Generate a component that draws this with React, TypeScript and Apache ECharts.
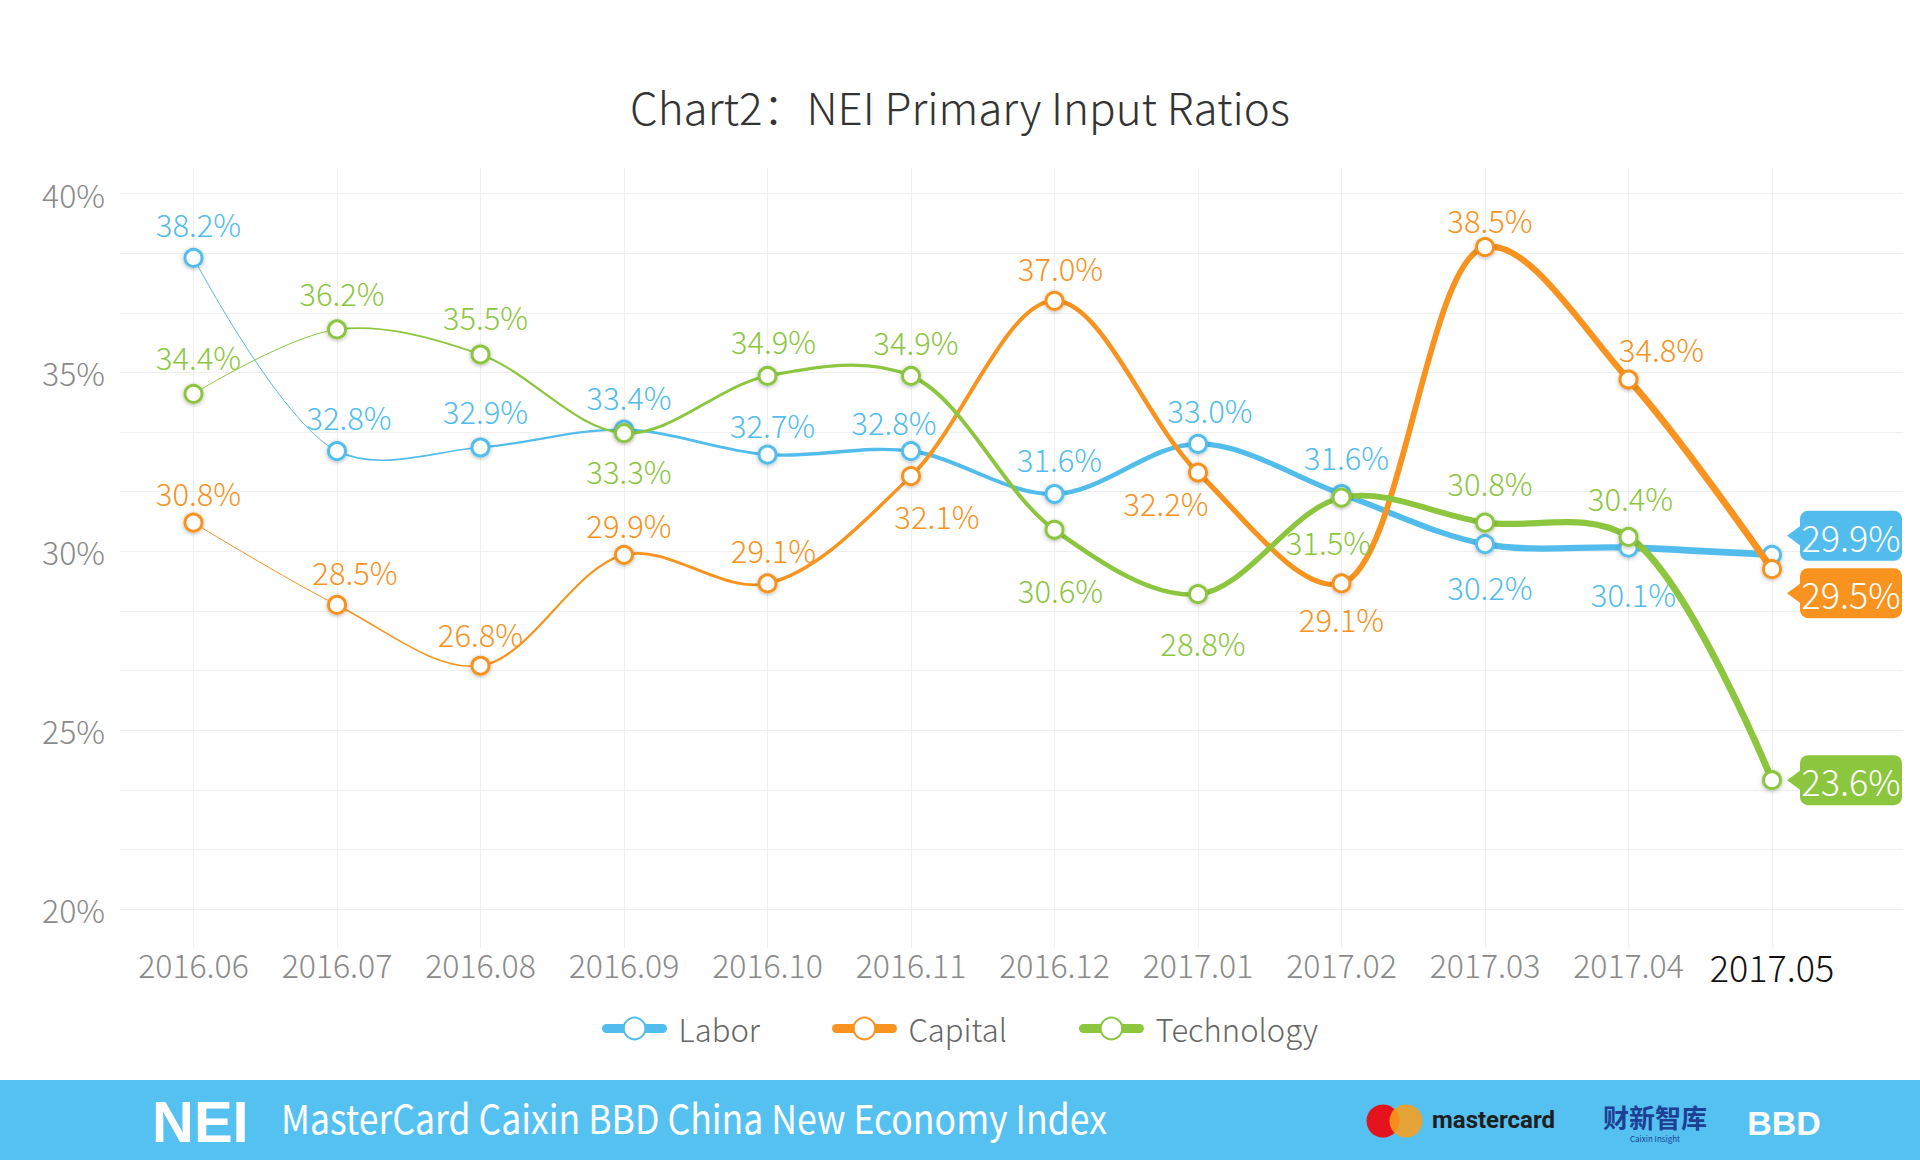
import React, { useEffect, useRef } from 'react';
import * as echarts from 'echarts';

const categories = ['2016.06', '2016.07', '2016.08', '2016.09', '2016.10', '2016.11', '2016.12', '2017.01', '2017.02', '2017.03', '2017.04', '2017.05'];
const labor = [38.2, 32.8, 32.9, 33.4, 32.7, 32.8, 31.6, 33.0, 31.6, 30.2, 30.1, 29.9];
const capital = [30.8, 28.5, 26.8, 29.9, 29.1, 32.1, 37.0, 32.2, 29.1, 38.5, 34.8, 29.5];
const technology = [34.4, 36.2, 35.5, 33.3, 34.9, 34.9, 30.6, 28.8, 31.5, 30.8, 30.4, 23.6];
const yTicks = [20, 25, 30, 35, 40];
const seriesNames = ['Labor', 'Capital', 'Technology'];

// layout / style (not data)
const laborLabelDx = [5, 12, 5, 5, 5, -17, 5, 12, 5, 5, 5, 0];
const laborLabelDy = [-34, -35, -37, -33, -30, -30, -36, -34, -38, 42, 46, 0];
const capitalLabelDx = [5, 18, 0, 5, 6, 26, 6, -32, 0, 5, 33, 0];
const capitalLabelDy = [-30, -33, -32, -30, -34, 39, -33, 30, 35, -28, -31, 0];
const techLabelDx = [5, 5, 5, 5, 6, 5, 6, 5, -13, 5, 2, 0];
const techLabelDy = [-37, -37, -38, 37, -35, -34, 60, 48, 44, -40, -39, 0];
const segWidths = [1, 1.6, 2.2, 2.8, 3.4, 4.0, 4.6, 5.2, 5.8, 6.3, 6.8];

const FONT = '"Noto Sans CJK SC", "Noto Sans", sans-serif';
const COLORS = ['#52BDEC', '#F7931E', '#8CC63F'];
const GRID_LINE = '#efefef';

// centripetal Catmull-Rom segment control points between pts[i] and pts[i+1]
function crSegment(pts: number[][], i: number) {
  const p1 = pts[i];
  const p2 = pts[i + 1];
  const p0 = i > 0 ? pts[i - 1] : p1;
  const p3 = i + 2 < pts.length ? pts[i + 2] : p2;
  const dist = (a: number[], b: number[]) => Math.hypot(b[0] - a[0], b[1] - a[1]);
  const l01 = dist(p0, p1);
  const l12 = dist(p1, p2);
  const l23 = dist(p2, p3);
  const l01a = Math.sqrt(l01);
  const l12a = Math.sqrt(l12);
  const l23a = Math.sqrt(l23);
  let c1x = p1[0], c1y = p1[1], c2x = p2[0], c2y = p2[1];
  if (l01a > 1e-9) {
    const a = 2 * l01 + 3 * l01a * l12a + l12;
    const n = 3 * l01a * (l01a + l12a);
    c1x = (p1[0] * a - p0[0] * l12 + p2[0] * l01) / n;
    c1y = (p1[1] * a - p0[1] * l12 + p2[1] * l01) / n;
  }
  if (l23a > 1e-9) {
    const b = 2 * l23 + 3 * l23a * l12a + l12;
    const m = 3 * l23a * (l23a + l12a);
    c2x = (p2[0] * b + p1[0] * l23 - p3[0] * l12) / m;
    c2y = (p2[1] * b + p1[1] * l23 - p3[1] * l12) / m;
  }
  return [c1x, c1y, c2x, c2y];
}

function curveSeries(name: string, values: number[], color: string, z: number, endDy: number) {
  return {
    type: 'custom',
    name: name + '-curve',
    xAxisIndex: 1,
    yAxisIndex: 1,
    z,
    silent: true,
    clip: false,
    data: values.map((v, i) => [i, v]),
    encode: { x: 0, y: 1 },
    renderItem: (params: any, api: any) => {
      const i = params.dataIndex;
      const n = values.length;
      const pts = values.map((v, j) => api.coord([j, v]));
      if (i < n - 1) {
        const c = crSegment(pts, i);
        return {
          type: 'bezierCurve',
          shape: {
            x1: pts[i][0], y1: pts[i][1],
            cpx1: c[0], cpy1: c[1],
            cpx2: c[2], cpy2: c[3],
            x2: pts[i + 1][0], y2: pts[i + 1][1],
          },
          style: { stroke: color, lineWidth: segWidths[i], fill: 'none', lineCap: 'round' },
        };
      }
      const px = pts[i][0];
      const py = pts[i][1];
      const cy = py + endDy;
      return {
        type: 'group',
        children: [
          {
            type: 'polygon',
            shape: { points: [[px + 15, cy], [px + 30, cy - 11], [px + 30, cy + 11]] },
            style: { fill: color },
          },
          {
            type: 'rect',
            shape: { x: px + 28, y: cy - 25, width: 102, height: 50, r: 8 },
            style: { fill: color },
          },
          {
            type: 'text',
            x: px + 79,
            y: cy,
            style: {
              text: values[i].toFixed(1) + '%',
              fill: '#fff',
              fontSize: 36,
              fontFamily: FONT,
              fontWeight: 300,
              align: 'center',
              verticalAlign: 'middle',
            },
          },
        ],
      };
    },
  };
}

function markerSeries(name: string, values: number[], color: string, z: number, dx: number[], dy: number[]) {
  return {
    type: 'line',
    name,
    xAxisIndex: 1,
    yAxisIndex: 1,
    z,
    silent: true,
    symbol: 'circle',
    symbolSize: 17,
    showAllSymbol: true,
    lineStyle: { color, width: 0, opacity: 0 },
    itemStyle: {
      color: '#fff',
      borderColor: color,
      borderWidth: 3,
      shadowBlur: 4,
      shadowColor: 'rgba(0,0,0,0.3)',
      shadowOffsetY: 1,
    },
    emphasis: { disabled: true },
    label: {
      show: true,
      position: 'inside',
      color,
      fontSize: 31,
      fontFamily: FONT,
      fontWeight: 300,
      formatter: (p: any) => Number(p.value).toFixed(1) + '%',
    },
    data: values.map((v, i) => ({
      value: v,
      label: { show: i < values.length - 1, offset: [dx[i], dy[i]] },
    })),
  };
}

export default function App() {
  const ref = useRef<HTMLDivElement>(null);
  useEffect(() => {
    if (!ref.current) return;
    const chart = echarts.init(ref.current, undefined, { renderer: 'svg' });
    const yMin = yTicks[0];
    const yMax = yTicks[yTicks.length - 1];
    const step = yTicks[1] - yTicks[0];
    // plot area B spans y 168..948 while 40% sits at 193.5 and 20% at 909
    const pxPerUnit = (909 - 193.5) / (yMax - yMin);
    const bMax = yMax + (193.5 - 168) / pxPerUnit;
    const bMin = yMin - (948 - 909) / pxPerUnit;
    const last = categories.length - 1;

    const option: any = {
      animation: false,
      backgroundColor: '#ffffff',
      title: {
        text: 'Chart2：NEI Primary Input Ratios',
        left: 'center',
        top: 74,
        textStyle: { fontSize: 44, fontWeight: 300, color: '#333333', fontFamily: FONT, lineHeight: 54 },
      },
      grid: [
        { left: 120, right: 17, top: 193.5, bottom: 1160 - 909 },
        { left: 193.5, right: 148, top: 168, bottom: 1160 - 948 },
      ],
      xAxis: [
        { type: 'value', gridIndex: 0, show: false, min: 0, max: 1 },
        {
          type: 'category',
          gridIndex: 1,
          data: categories,
          boundaryGap: false,
          axisLine: { show: false },
          axisTick: { show: false },
          splitLine: { show: true, interval: 0, lineStyle: { color: GRID_LINE, width: 1 } },
          axisLabel: {
            interval: 0,
            margin: 0,
            color: '#8a8a8a',
            fontSize: 32,
            fontFamily: FONT,
            fontWeight: 300,
            formatter: (v: string, i: number) => (i === last ? '{hl|' + v + '}' : v),
            rich: {
              hl: { color: '#111111', fontSize: 36, fontFamily: FONT, fontWeight: 300 },
            },
          },
        },
      ],
      yAxis: [
        {
          type: 'value',
          gridIndex: 0,
          min: yMin,
          max: yMax,
          interval: step,
          axisLine: { show: false },
          axisTick: { show: false },
          minorTick: { show: false, splitNumber: 3 },
          splitLine: { show: true, lineStyle: { color: GRID_LINE, width: 1 } },
          minorSplitLine: { show: true, lineStyle: { color: GRID_LINE, width: 1 } },
          axisLabel: {
            margin: 15,
            color: '#8a8a8a',
            fontSize: 32,
            fontFamily: FONT,
            fontWeight: 300,
            formatter: '{value}%',
          },
        },
        { type: 'value', gridIndex: 1, show: false, min: bMin, max: bMax, splitLine: { show: false } },
      ],
      legend: {
        left: 'center',
        top: 1008,
        itemWidth: 56,
        itemHeight: 27,
        itemGap: 72,
        selectedMode: false,
        data: seriesNames,
        lineStyle: { width: 9, opacity: 1, cap: 'round' },
        textStyle: { fontSize: 31, color: '#666666', fontFamily: FONT, fontWeight: 300, padding: [0, 0, 0, 11] },
      },
      series: [
        curveSeries(seriesNames[0], labor, COLORS[0], 2, -19),
        markerSeries(seriesNames[0], labor, COLORS[0], 3, laborLabelDx, laborLabelDy),
        curveSeries(seriesNames[1], capital, COLORS[1], 4, 24),
        markerSeries(seriesNames[1], capital, COLORS[1], 5, capitalLabelDx, capitalLabelDy),
        curveSeries(seriesNames[2], technology, COLORS[2], 6, 0),
        markerSeries(seriesNames[2], technology, COLORS[2], 7, techLabelDx, techLabelDy),
      ],
      graphic: [
        { type: 'rect', left: 0, top: 1080, shape: { width: 1920, height: 80 }, style: { fill: '#55C1F0' }, silent: true },
        {
          type: 'text', x: 152, y: 1121, silent: true,
          style: { text: 'NEI', fill: '#ffffff', fontSize: 58, fontWeight: 'bold', fontFamily: '"Liberation Sans", Arial, sans-serif', align: 'left', verticalAlign: 'middle' },
        },
        {
          type: 'text', x: 281, y: 1117, scaleX: 0.89, silent: true,
          style: { text: 'MasterCard Caixin BBD China New Economy Index', fill: '#ffffff', fontSize: 40, fontFamily: FONT, align: 'left', verticalAlign: 'middle' },
        },
        { type: 'circle', shape: { cx: 1383, cy: 1121, r: 16.5 }, style: { fill: '#E5131D' }, silent: true },
        { type: 'circle', shape: { cx: 1406, cy: 1121, r: 16.5 }, style: { fill: '#F79E1B', opacity: 0.88 }, silent: true },
        {
          type: 'text', x: 1432, y: 1120, silent: true,
          style: { text: 'mastercard', fill: '#1e1e1e', fontSize: 24, fontWeight: 'bold', fontFamily: 'Roboto, sans-serif', align: 'left', verticalAlign: 'middle' },
        },
        {
          type: 'text', x: 1655, y: 1116, silent: true,
          style: { text: '财新智库', fill: '#1d3f94', fontSize: 26, fontWeight: 'bold', fontFamily: FONT, align: 'center', verticalAlign: 'middle' },
        },
        {
          type: 'text', x: 1655, y: 1138, silent: true,
          style: { text: 'Caixin Insight', fill: '#1d3f94', fontSize: 8, fontFamily: FONT, align: 'center', verticalAlign: 'middle' },
        },
        {
          type: 'text', x: 1784, y: 1123, silent: true,
          style: { text: 'BBD', fill: '#ffffff', fontSize: 34, fontWeight: 'bold', fontFamily: '"Liberation Sans", Arial, sans-serif', align: 'center', verticalAlign: 'middle' },
        },
      ],
    };
    chart.setOption(option);
    return () => chart.dispose();
  }, []);
  return <div ref={ref} style={{ position: 'fixed', left: 0, top: 0, width: 1920, height: 1160 }} />;
}
